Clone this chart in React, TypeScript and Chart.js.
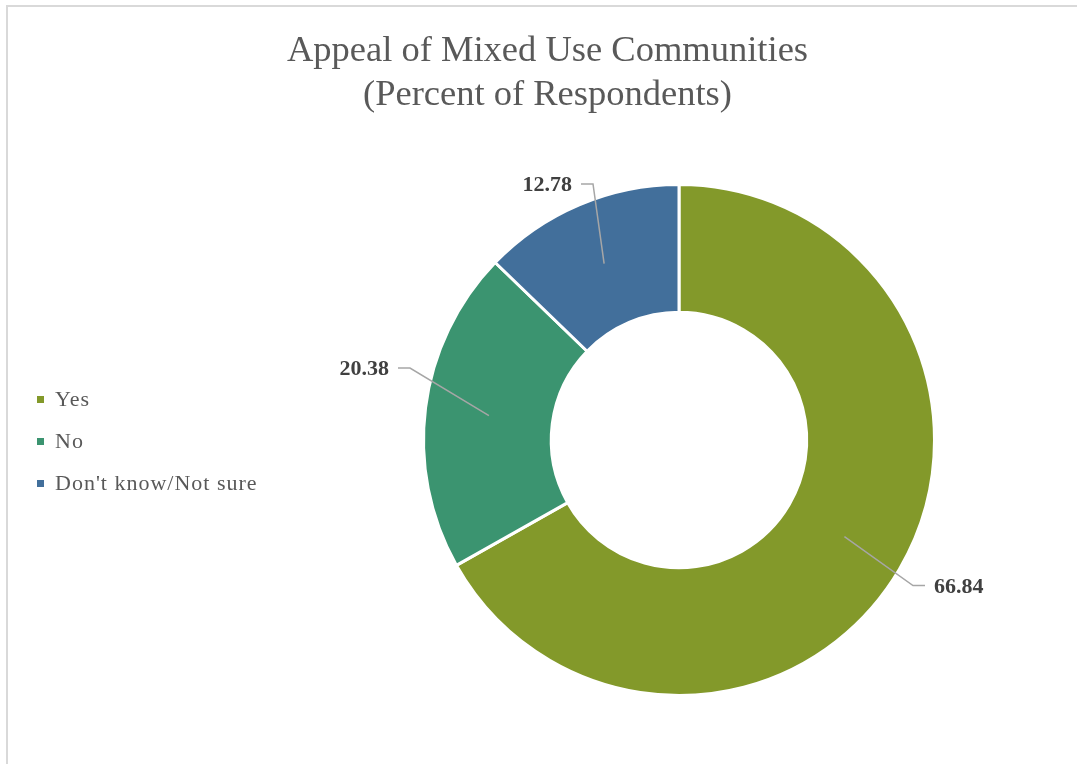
import React, { useEffect, useRef } from "react";
import { Chart, registerables } from "chart.js";

Chart.register(...registerables);

const TITLE_LINES = ["Appeal of Mixed Use Communities", "(Percent of Respondents)"];
const CATEGORIES = ["Yes", "No", "Don't know/Not sure"];
const VALUES = [66.84, 20.38, 12.78];
const COLORS = ["#83992A", "#3B9470", "#426F9B"];
// data-label elbow offsets from the doughnut centre: [dx, dy, side]
const LABEL_ELBOWS: number[][] = [
  [234, 145.5, 1],
  [-269, -72, -1],
  [-86, -256, -1],
];

const W = 1077;
const H = 764;

const decorPlugin = {
  id: "decor",
  afterDraw(chart: any) {
    const ctx = chart.ctx as CanvasRenderingContext2D;
    const meta = chart.getDatasetMeta(0);
    const arc0 = meta.data[0] as any;
    const cx = arc0.x;
    const cy = arc0.y;
    ctx.save();
    // title
    ctx.fillStyle = "#595959";
    ctx.font = '36.5px "Liberation Serif"';
    ctx.textAlign = "center";
    ctx.textBaseline = "alphabetic";
    TITLE_LINES.forEach((t, i) => ctx.fillText(t, 547.5, 61 + i * 44));
    // legend
    ctx.font = '22px "Liberation Serif"';
    ctx.textAlign = "left";
    (ctx as any).letterSpacing = "1px";
    CATEGORIES.forEach((c, i) => {
      const y = 399.5 + i * 42;
      ctx.fillStyle = COLORS[i];
      ctx.fillRect(37, y - 3.5, 7, 7);
      ctx.fillStyle = "#595959";
      ctx.fillText(c, 55, y + 6.5);
    });
    (ctx as any).letterSpacing = "0px";
    // data labels with leader lines
    meta.data.forEach((arc: any, i: number) => {
      const p = arc.getCenterPoint();
      const [dx, dy, side] = LABEL_ELBOWS[i];
      const ex = cx + dx;
      const ey = cy + dy;
      const hx = ex + side * 12;
      ctx.strokeStyle = "#A6A6A6";
      ctx.lineWidth = 1.5;
      ctx.beginPath();
      ctx.moveTo(p.x, p.y);
      ctx.lineTo(ex, ey);
      ctx.lineTo(hx, ey);
      ctx.stroke();
      ctx.font = 'bold 22px "Liberation Serif"';
      ctx.fillStyle = "#404040";
      ctx.textAlign = side > 0 ? "left" : "right";
      ctx.textBaseline = "middle";
      ctx.fillText(VALUES[i].toFixed(2), hx + side * 9, ey + 1.5);
    });
    ctx.restore();
  },
};

export default function App() {
  const ref = useRef<HTMLCanvasElement | null>(null);
  useEffect(() => {
    if (!ref.current) return;
    const chart = new Chart(ref.current, {
      type: "doughnut",
      data: {
        labels: CATEGORIES,
        datasets: [
          {
            data: VALUES,
            backgroundColor: COLORS,
            borderColor: "#ffffff",
            borderWidth: 3,
          },
        ],
      },
      options: {
        responsive: false,
        animation: false,
        devicePixelRatio: 1,
        cutout: "50%",
        layout: { padding: { top: 183, bottom: 67, left: 422, right: 141 } },
        plugins: {
          legend: { display: false },
          title: { display: false },
          tooltip: { enabled: false },
        },
      },
      plugins: [decorPlugin],
    });
    return () => chart.destroy();
  }, []);
  return (
    <div style={{ position: "fixed", left: 0, top: 0, width: W, height: H, background: "#fff", overflow: "hidden" }}>
      <div
        style={{
          position: "absolute",
          left: 6,
          top: 5,
          width: 1120,
          height: 820,
          border: "2px solid #d9d9d9",
          boxSizing: "border-box",
        }}
      />
      <canvas ref={ref} width={W} height={H} style={{ position: "absolute", left: 0, top: 0 }} />
    </div>
  );
}
